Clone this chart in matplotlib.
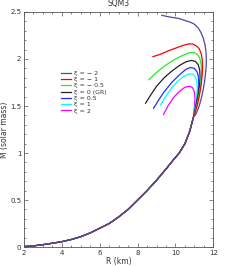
import numpy as np
import matplotlib.pyplot as plt
from matplotlib.ticker import MultipleLocator

# common low-mass branch (all curves coincide here)
r_low = [2.0, 2.5, 3.0, 3.5, 4.0, 4.5, 5.0, 5.5, 6.0, 6.5, 7.0, 7.5, 8.0, 8.5,
         9.0, 9.5, 9.9, 10.2, 10.5, 10.75, 10.96]
m_low = [0.005, 0.012, 0.025, 0.04, 0.057, 0.08, 0.11, 0.15, 0.2, 0.25, 0.32, 0.4,
         0.5, 0.6, 0.71, 0.83, 0.93, 1.0, 1.1, 1.23, 1.39]

# upper branches, from the starting point down to the common branch
r_m2 = [9.28, 9.6, 9.9, 10.2, 10.5, 10.8, 11.0, 11.2, 11.35, 11.47, 11.56, 11.61,
        11.63, 11.62, 11.58, 11.52, 11.44, 11.35, 11.25, 11.14, 11.04]
m_m2 = [2.465, 2.45, 2.44, 2.43, 2.41, 2.39, 2.37, 2.33, 2.28, 2.22, 2.15, 2.08,
        2.0, 1.92, 1.83, 1.74, 1.65, 1.57, 1.50, 1.44, 1.40]
r_m1 = [8.81, 9.2, 9.6, 10.0, 10.4, 10.7, 10.9, 11.1, 11.25, 11.35, 11.41, 11.43,
        11.41, 11.36, 11.28, 11.18, 11.07, 11.0]
m_m1 = [2.025, 2.05, 2.085, 2.115, 2.145, 2.16, 2.16, 2.14, 2.11, 2.06, 2.0, 1.92,
        1.83, 1.73, 1.63, 1.53, 1.45, 1.41]
r_m05 = [8.60, 8.9, 9.2, 9.6, 10.0, 10.4, 10.7, 10.95, 11.15, 11.28, 11.35, 11.38,
         11.36, 11.3, 11.2, 11.09, 11.0]
m_m05 = [1.78, 1.84, 1.89, 1.95, 2.0, 2.04, 2.065, 2.07, 2.05, 2.01, 1.95, 1.87,
         1.78, 1.68, 1.57, 1.48, 1.41]
r_0 = [8.42, 8.7, 9.0, 9.4, 9.8, 10.2, 10.55, 10.85, 11.05, 11.2, 11.28, 11.30,
       11.27, 11.2, 11.1, 11.0]
m_0 = [1.53, 1.62, 1.71, 1.80, 1.87, 1.93, 1.97, 1.985, 1.975, 1.94, 1.88, 1.80,
       1.71, 1.61, 1.51, 1.42]
r_p05 = [8.84, 9.1, 9.4, 9.8, 10.2, 10.55, 10.8, 11.0, 11.15, 11.22, 11.23, 11.19,
         11.1, 11.0]
m_p05 = [1.475, 1.56, 1.65, 1.75, 1.83, 1.89, 1.91, 1.90, 1.86, 1.80, 1.72, 1.63,
         1.53, 1.43]
r_p1 = [9.21, 9.5, 9.8, 10.1, 10.4, 10.7, 10.9, 11.05, 11.13, 11.15, 11.12, 11.05,
        10.98]
m_p1 = [1.51, 1.61, 1.69, 1.76, 1.81, 1.84, 1.84, 1.81, 1.76, 1.68, 1.60, 1.51,
        1.43]
r_p2 = [9.37, 9.6, 9.9, 10.2, 10.5, 10.75, 10.9, 11.0, 11.03, 11.0, 10.96]
m_p2 = [1.41, 1.50, 1.59, 1.655, 1.70, 1.71, 1.695, 1.65, 1.58, 1.50, 1.42]

labels = ['ξ = − 2', 'ξ = − 1', 'ξ = − 0.5', 'ξ = 0 (GR)', 'ξ = 0.5', 'ξ = 1', 'ξ = 2']
colors = ['#4a4aa0', 'red', '#22ee22', '#222222', '#2828ff', 'cyan', 'magenta']
branches = [(r_m2, m_m2), (r_m1, m_m1), (r_m05, m_m05), (r_0, m_0),
            (r_p05, m_p05), (r_p1, m_p1), (r_p2, m_p2)]

fig = plt.figure(figsize=(2.4, 2.66), dpi=100)
ax = fig.add_axes([0.1, 0.0714, 0.789, 0.8835])

for i in range(len(branches)):
    rr, mm = branches[i]
    r = list(rr) + r_low[::-1]
    m = list(mm) + m_low[::-1]
    ax.plot(r, m, color=colors[i], lw=0.9, label=labels[i], zorder=10 - i)

ax.set_xlim(2, 12)
ax.set_ylim(0, 2.5)
ax.xaxis.set_major_locator(MultipleLocator(2))
ax.xaxis.set_minor_locator(MultipleLocator(0.5))
ax.yaxis.set_major_locator(MultipleLocator(0.5))
ax.yaxis.set_minor_locator(MultipleLocator(0.1))
ax.set_yticks([0, 0.5, 1, 1.5, 2, 2.5])
ax.set_yticklabels(['0', '0.5', '1', '1.5', '2', '2.5'])
ax.tick_params(which='both', direction='in', top=True, right=True,
               labelsize=5, colors='#555555', labelcolor='#333333', width=0.5)
ax.tick_params(which='major', length=3, pad=2)
ax.tick_params(which='minor', length=1.5)
for s in ax.spines.values():
    s.set_linewidth(0.6)
    s.set_color('#555555')

ax.set_title('SQM3', fontsize=5.5, color='#333333', pad=4)
ax.set_xlabel('R (km)', fontsize=5.5, color='#333333', labelpad=1)
ax.set_ylabel('M (solar mass)', fontsize=5.5, color='#333333', labelpad=1)

ax.legend(loc='upper left', bbox_to_anchor=(0.17, 0.77), frameon=False,
          fontsize=4.5, handlelength=1.6, handletextpad=0.6, labelspacing=0.15,
          borderpad=0.2, labelcolor='#333333')

fig.savefig('out.png', dpi=100)
